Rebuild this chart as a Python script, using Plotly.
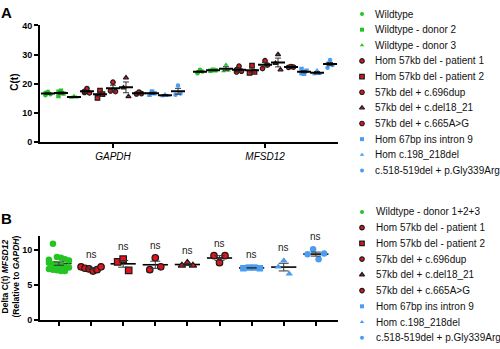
import numpy as np
import plotly.graph_objects as go

# ---- data -------------------------------------------------------------
genes = ["GAPDH", "MFSD12"]

groups_a = [
    "Wildtype",
    "Wildtype - donor 2",
    "Wildtype - donor 3",
    "Hom 57kb del - patient 1",
    "Hom 57kb del - patient 2",
    "57kb del + c.696dup",
    "57kb del + c.del18_21",
    "57kb del + c.665A>G",
    "Hom 67bp ins intron 9",
    "Hom c.198_218del",
    "c.518-519del + p.Gly339Arg",
]

# C(t) values per group
gapdh_ct = [
    [16.0, 17.2, 16.4, 16.9],
    [15.8, 17.6, 16.6, 17.2],
    [15.2, 15.8, 15.3],
    [17.0, 18.3, 16.8, 17.4],
    [15.1, 17.6, 16.4],
    [17.5, 20.5, 17.3],
    [18.6, 22.0, 15.6],
    [16.5, 17.1, 16.6],
    [16.2, 17.3, 16.7],
    [15.7, 16.4, 15.9],
    [16.2, 19.4, 16.6],
]
mfsd12_ct = [
    [23.6, 24.8, 24.2, 23.9],
    [24.4, 24.8, 24.6],
    [24.3, 26.5, 24.6],
    [24.0, 26.0, 24.3, 24.8],
    [23.7, 26.2, 24.0],
    [25.2, 27.9, 26.4],
    [27.0, 30.0, 24.8],
    [25.6, 25.9, 25.7],
    [25.0, 23.4, 24.4, 23.6],
    [23.3, 24.6, 23.4],
    [25.5, 28.1, 26.4, 26.9],
]

groups_b = [
    "Wildtype - donor 1+2+3",
    "Hom 57kb del - patient 1",
    "Hom 57kb del - patient 2",
    "57kb del + c.696dup",
    "57kb del + c.del18_21",
    "57kb del + c.665A>G",
    "Hom 67bp ins intron 9",
    "Hom c.198_218del",
    "c.518-519del + p.Gly339Arg",
]
delta_ct = [
    [8.6, 10.9, 9.0, 8.9, 8.7, 8.5, 8.2, 8.0, 7.9, 7.8, 7.6, 7.5, 7.3, 7.2, 7.1, 7.0, 7.0],
    [7.6, 7.4, 7.3, 7.0, 7.2, 7.6],
    [8.3, 8.7, 7.1],
    [7.2, 8.9, 7.6],
    [7.8, 8.2, 7.8],
    [9.2, 8.2, 9.2],
    [7.4, 7.5, 7.5, 7.4],
    [7.6, 8.5, 6.6],
    [9.4, 10.1, 8.7, 9.5],
]
significance_b = ["", "ns", "ns", "ns", "ns", "ns", "ns", "ns", "ns"]

# ---- styles -----------------------------------------------------------
GREEN = "#25c425"
RED = "#e3121b"
BLUE = "#4b9df2"
EDGE = "#1c1c1c"
FONT = "Arial, Liberation Sans, sans-serif"

style_a = [
    ("circle", GREEN, GREEN),
    ("square", GREEN, GREEN),
    ("triangle-up", GREEN, GREEN),
    ("circle", RED, EDGE),
    ("square", RED, EDGE),
    ("circle", RED, EDGE),
    ("triangle-up", RED, EDGE),
    ("circle", RED, EDGE),
    ("square", BLUE, BLUE),
    ("triangle-up", BLUE, BLUE),
    ("circle", BLUE, BLUE),
]
style_b = [
    ("circle", GREEN, GREEN),
    ("circle", RED, EDGE),
    ("square", RED, EDGE),
    ("circle", RED, EDGE),
    ("triangle-up", RED, EDGE),
    ("circle", RED, EDGE),
    ("square", BLUE, BLUE),
    ("triangle-up", BLUE, BLUE),
    ("circle", BLUE, BLUE),
]


def spread(n, kmax, px_step, px_per_unit):
    """Horizontal offsets that fan points out in a few columns."""
    k = min(n, kmax)
    if k <= 1:
        return [0.0] * n
    step = min(px_step, 20.0 / (k - 1)) / px_per_unit
    return [((i % k) - (k - 1) / 2) * step for i in range(n)]


def mean_sem(v):
    v = np.asarray(v, dtype=float)
    return v.mean(), v.std(ddof=1) / np.sqrt(len(v))


def marker_style(sym, fill, edge, size):
    outlined = edge == EDGE
    return dict(symbol=sym, size=size, color=fill,
                line=dict(color=edge, width=1.2 if outlined else 0))


fig = go.Figure()

# ---- panel A: raw C(t) -------------------------------------------------
PX_A = 152.0  # pixels per gene slot
GROUP_STEP = 13.0 / PX_A
for g, values in enumerate([gapdh_ct, mfsd12_ct]):
    for j, vals in enumerate(values):
        sym, fill, edge = style_a[j]
        xc = g + (j - (len(values) - 1) / 2) * GROUP_STEP
        xs = [xc + d for d in spread(len(vals), 3, 2.5, PX_A)]
        fig.add_trace(go.Scatter(
            x=xs, y=vals, mode="markers", xaxis="x", yaxis="y",
            marker=marker_style(sym, fill, edge, 4.5),
            showlegend=False, hoverinfo="skip"))
        m, s = mean_sem(vals)
        fig.add_trace(go.Scatter(
            x=[xc], y=[m], mode="markers", xaxis="x", yaxis="y",
            marker=dict(symbol="line-ew", size=10, color="black",
                        line=dict(color="black", width=2)),
            error_y=dict(type="data", array=[s], color="#333333",
                         thickness=1, width=3),
            showlegend=False, hoverinfo="skip"))

# ---- panel B: delta C(t) ----------------------------------------------
PX_B = 32.1
for j, vals in enumerate(delta_ct):
    sym, fill, edge = style_b[j]
    m, s = mean_sem(vals)
    fig.add_trace(go.Scatter(
        x=[j], y=[m], mode="markers", xaxis="x2", yaxis="y2",
        marker=dict(symbol="line-ew", size=18, color="black",
                    line=dict(color="black", width=1.6)),
        showlegend=False, hoverinfo="skip"))
    xs = [j + d for d in spread(len(vals), 6, 5.5, PX_B)]
    fig.add_trace(go.Scatter(
        x=xs, y=vals, mode="markers", xaxis="x2", yaxis="y2",
        marker=marker_style(sym, fill, edge, 6.5),
        showlegend=False, hoverinfo="skip"))
    fig.add_trace(go.Scatter(
        x=[j], y=[m], mode="markers", xaxis="x2", yaxis="y2",
        marker=dict(size=1, opacity=0),
        error_y=dict(type="data", array=[s], color="#333333",
                     thickness=1, width=5),
        showlegend=False, hoverinfo="skip"))
    if significance_b[j]:
        fig.add_annotation(x=j, y=max(vals) + 1.8, xref="x2", yref="y2",
                           text=significance_b[j], showarrow=False,
                           font=dict(family=FONT, size=10, color="#222"))

# ---- legends (drawn on a pixel-scaled overlay axis) --------------------
def draw_legend(labels, styles, x_mark, x_text, y0, dy):
    for i, (lab, (sym, fill, edge)) in enumerate(zip(labels, styles)):
        y = y0 + i * dy
        fig.add_trace(go.Scatter(
            x=[x_mark], y=[y], mode="markers", xaxis="x3", yaxis="y3",
            marker=marker_style(sym, fill, edge, 4.5 if edge == EDGE else 4),
            showlegend=False, hoverinfo="skip"))
        fig.add_annotation(x=x_text, y=y, xref="x3", yref="y3", text=lab,
                           xanchor="left", yanchor="middle", showarrow=False,
                           font=dict(family=FONT, size=10, color="#111"))


draw_legend(groups_a, style_a, 362, 373, 9.3, 16.1)
draw_legend(groups_b, style_b, 362, 374, 213.0, 16.2)

# ---- texts ---------------------------------------------------------------
def label(x, y, text, size, angle=0, bold=True):
    fig.add_annotation(x=x, y=y, xref="x3", yref="y3", text=text,
                       showarrow=False, textangle=angle,
                       font=dict(family=FONT, size=size, color="black",
                                 weight="bold" if bold else "normal"))

label(6, 7.5, "A", 15)
label(6, 220, "B", 15)
label(15, 80, "C(t)", 10, angle=-90)
label(10.5, 280, "Delta C(t) <i>MFSD12</i><br>(Relative to <i>GAPDH</i>)", 8.5, angle=-90)

# ---- axes ----------------------------------------------------------------
W, H = 500, 349
axis_common = dict(showline=True, linecolor="black", linewidth=2,
                   ticks="outside", ticklen=4, tickwidth=1.5, tickcolor="black",
                   showgrid=False, zeroline=False, fixedrange=True)
tick_bold = dict(family=FONT, size=9, color="black", weight="bold")

fig.update_layout(
    width=W, height=H,
    margin=dict(l=0, r=0, t=0, b=0),
    paper_bgcolor="white", plot_bgcolor="rgba(0,0,0,0)",
    showlegend=False,
    xaxis=dict(domain=[40 / W, 338 / W], range=[-0.48, 1.48],
               tickvals=[0, 1], ticktext=genes, anchor="y",
               tickfont=dict(family=FONT, size=10, color="black", style="italic"),
               **axis_common),
    yaxis=dict(domain=[1 - 141 / H, 1 - 21 / H], range=[0, 40],
               tickvals=[0, 10, 20, 30, 40], anchor="x",
               tickfont=tick_bold, **axis_common),
    xaxis2=dict(domain=[40 / W, 338 / W], range=[-0.59, 8.69],
                tickvals=list(range(len(groups_b))), ticktext=[""] * len(groups_b),
                anchor="y2", **axis_common),
    yaxis2=dict(domain=[1 - 324.3 / H, 1 - 237.9 / H], range=[0, 12],
                tickvals=[0, 5, 10], anchor="x2",
                tickfont=tick_bold, **axis_common),
    xaxis3=dict(domain=[0, 1], range=[0, W], visible=False, fixedrange=True,
                anchor="y3"),
    yaxis3=dict(domain=[0, 1], range=[H, 0], visible=False, fixedrange=True,
                anchor="x3"),
)

fig.write_html("out.html")
